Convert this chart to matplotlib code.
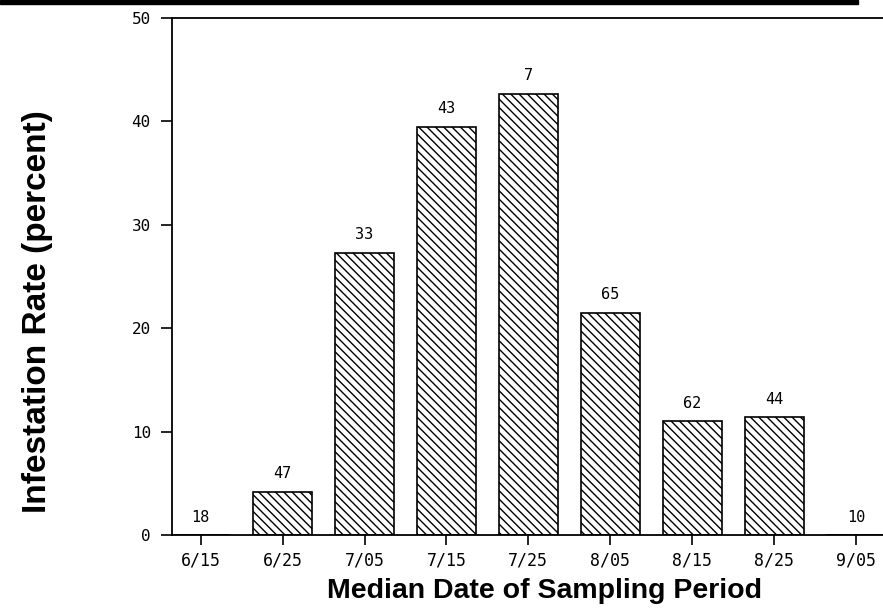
import matplotlib
matplotlib.use('Agg')
import matplotlib.pyplot as plt
import numpy as np

dates = ['6/15', '6/25', '7/05', '7/15', '7/25', '8/05', '8/15', '8/25', '9/05']
rates = [0.0, 4.2, 27.3, 39.5, 42.7, 21.5, 11.0, 11.4, 0.0]
counts = ['18', '47', '33', '43', '7', '65', '62', '44', '10']
yticks = [0, 10, 20, 30, 40, 50]

plt.rcParams['hatch.linewidth'] = 1.0
fig = plt.figure(figsize=(8.83, 6.11), dpi=100)
ax = fig.add_axes([0.1945, 0.1244, 0.8055, 0.8461])

x = np.arange(len(dates))
ax.bar(x, rates, width=0.72, color='white', edgecolor='black',
       linewidth=1.2, hatch='\\\\\\\\')
for xi, r, c in zip(x, rates, counts):
    ax.text(xi, r + 1.0, c, ha='center', va='bottom',
            fontsize=11, family='DejaVu Sans Mono')

ax.set_xlim(-0.354, 8.33)
ax.set_ylim(0, 50)
ax.set_xticks(x)
ax.set_xticklabels(dates, family='DejaVu Sans Mono', fontsize=12)
ax.set_yticks(yticks)
ax.set_yticklabels([str(v) for v in yticks], family='DejaVu Sans Mono', fontsize=11.5)
ax.tick_params(axis='x', direction='out', length=7, width=1.2, pad=5)
ax.tick_params(axis='y', direction='out', length=8, width=1.2, pad=7)
ax.spines['right'].set_visible(False)
for s in ['left', 'top', 'bottom']:
    ax.spines[s].set_linewidth(1.3)

fig.text(0.617, 0.033, 'Median Date of Sampling Period', ha='center', va='center',
         fontsize=20.5, fontweight='bold', family='Liberation Sans')
fig.text(0.042, 0.49, 'Infestation Rate (percent)', ha='center', va='center',
         rotation=90, fontsize=24, fontweight='bold', family='Liberation Sans')

# dark scan band along the top edge
fig.patches.append(plt.Rectangle((0, 0.993), 0.972, 0.007, transform=fig.transFigure,
                                 color='black', zorder=0))

fig.savefig('out.png', dpi=100)
